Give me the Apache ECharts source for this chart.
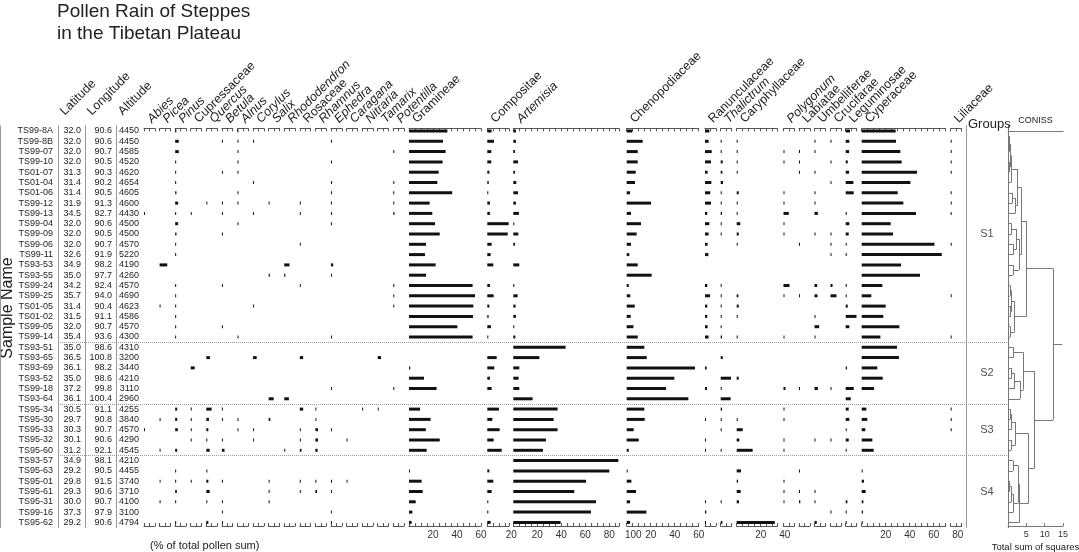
<!DOCTYPE html>
<html>
<head>
<meta charset="utf-8">
<title>Pollen Rain of Steppes</title>
<script src="https://cdn.jsdelivr.net/npm/echarts@6.0.0/dist/echarts.min.js"></script>
<style>
html, body { margin: 0; padding: 0; background: #fff; }
#main { width: 1079px; height: 552px; }
</style>
</head>
<body>
<div id="main"></div>
<script>
// samples, top to bottom
var samples = ['TS99-8A','TS99-8B','TS99-07','TS99-10','TS01-07','TS01-04','TS01-06','TS99-12','TS99-13','TS99-04',
    'TS99-09','TS99-06','TS99-11','TS93-53','TS93-55','TS99-24','TS99-25','TS01-05','TS01-02','TS99-05',
    'TS99-14','TS93-51','TS93-65','TS93-69','TS93-52','TS99-18','TS93-64','TS95-34','TS95-30','TS95-33',
    'TS95-32','TS95-60','TS93-57','TS95-63','TS95-01','TS95-61','TS95-31','TS99-16','TS95-62'];
var latitude = ['32.0','32.0','32.0','32.0','31.3','31.4','31.4','31.9','34.5','32.0',
    '32.0','32.0','32.6','34.9','35.0','34.2','35.7','31.4','31.5','32.0',
    '35.4','35.0','36.5','36.1','35.0','37.2','36.1','30.5','29.7','30.3',
    '30.1','31.2','34.9','29.2','29.8','29.3','30.0','37.3','29.2'];
var longitude = ['90.6','90.6','90.7','90.5','90.3','90.2','90.5','91.3','92.7','90.6',
    '90.5','90.7','91.9','98.2','97.7','92.4','94.0','90.4','91.1','90.7',
    '93.6','98.6','100.8','98.2','98.6','99.8','100.4','91.1','90.8','90.7',
    '90.6','92.1','98.1','90.5','91.5','90.6','90.7','97.9','90.6'];
var altitude = ['4450','4450','4585','4520','4620','4654','4605','4600','4430','4500',
    '4500','4570','5220','4190','4260','4570','4690','4623','4586','4570',
    '4300','4310','3200','3440','4210','3110','2960','4255','3840','4570',
    '4290','4545','4210','4455','3740','3710','4100','3100','4794'];

// pollen percentages (% of total pollen sum)
var abies = [0,0,0,0,0,0,0,0,0.6,0, 0,0,0,0,0,0,0,0,0,0, 0,0,0,0,0,0,0,0,0,0.5, 0,0,0,0,0,0,0,0,0];
var picea = [0,0,0,0,0,0,0,0,0,0, 0,0,0,6.4,0,0,0,0.4,0,0, 0,0,0,0,0,0,0,0,0.4,0, 0,0.4,0,0,0.4,0,0.4,0,0];
var pinus = [1,3,3,0.5,0.8,0.8,1.1,2.5,0.8,2.5, 1.1,0.4,0.4,0,0,0.6,0.4,0.5,0.4,0.4, 0.5,0,0,0,0,0,0,1.7,1.7,2.2, 0,1.7,0,0.4,0.5,1.4,0.5,0,0.4];
var cupressaceae = [0,0,0,0,0,0,0,0,0.3,0, 0,0,0,0,0,0,0,0,0,0, 0,0,0,3.3,0,0,0,0.6,0.5,0.5, 0.5,0,0,0,0.5,0,0,0,0];
var quercus = [0,0,0,0,0,0,0,0.5,0,0, 0,0,0,0,0,0,0,0,0,0, 0,0,3,0,0,0,0,4.4,2.2,1.7, 0.4,2.8,0,0.5,1.7,2.8,0.5,0,1.7];
var betula = [0,0.6,0,0,0.3,0,0,0.5,0.8,0, 0.5,0,0,0,0,0.4,0,0,0,0.5, 0,0,0,0,0,0,0,0.5,0.5,0, 0.4,2.2,0,0,0.5,0,0.5,0.3,0.5];
var alnus = [0.5,0.6,0.5,0.6,0.6,0,0.5,0.8,0,0.5, 0,0,0,0,0,0,0,0,0,0, 0.5,0,0,0,0,0,0,0,0.4,0.4, 0,0,0,0,0,0,0,0,0];
var corylus = [0,0.3,0,0,0,0.3,0,0,0.3,0, 0,0,0,0,0,0,0,0.3,0,0, 0,0,3,0,0,0,0,0,0,0.3, 0.3,0,0,0,0,0,0,0,0];
var salix = [0,0,0,0,0,0,0,0.4,0,0, 0,0,0,0,1,0,0,0,0,0, 0,0,0,0,0,0,4.2,0,1.4,0, 0,0,0,0,0.5,0.8,0.4,0,0];
var rhododendron = [0,0,0,0,0,0,0,0,0,0, 0,0,0,4.4,1,0,0,0,0,0, 0,0,0,0,0,0,3.9,0,0,0, 0,0.3,0,0,0,0,0,0,0];
var rosaceae = [0,0,0,0,0,0,0,0.5,0.6,0, 0,0.4,0,0,0,0.8,0,0,0,0, 0,0,2.8,0,0,0,0,2.8,0,0.5, 0.5,1.4,0,0,0.5,0.4,0,0,0];
var rhamnus = [0,0,0,0,0,0,0,0,0,0, 0,0,0,0,0,0,0,0,0,0, 0,0,0,0,0,0,0,0.5,0.4,2.2, 2.2,1.9,0,0,0.5,1.4,0,0,0];
var ephedra = [0,0.6,0,0.6,0,0.5,0.5,0.4,0.5,0.5, 0,0,0,1.9,0.8,0,0,0,0,0, 0.5,0,0,0,0,0.5,0,0,0,0.5, 0,0,0,0,0.4,0.8,0,0.8,0.4];
var caragana = [0,0,0,0,0,0,0,0,0,0, 0,0,0,0,0,0,0,0,0,0, 0,0,0,0,0,0,0,0,0,0, 0.6,0,0,0,0.5,0,0,0,0];
var nitraria = [0,0,0,0,0,0,0,0,0,0, 0,0,0,0,0,0,0,0,0,0, 0,0,0,0,0,0,0,0.3,0,0, 0,0,0,0,0,0,0,0,0];
var tamarix = [0,0,0,0,0,0,0,0,0,0, 0,0,0,0,0,0,0,0,0,0, 0,0,2.8,0,0,0,0,0.4,0,0, 0,0,0,0,0,0,0,0,0];
var potentilla = [0,0,0.3,0,0,0.5,0.4,0.5,1,0, 0,0,0,0,0,0.3,0.5,0.4,0,0, 0,0,0,0,0,0.3,0,0,0,0, 0,0,0,0,0,0,0,0,0];
var gramineae = [32,28.3,30.5,28,24.7,23.6,36,17.2,19.4,21.7, 25.6,14.2,13.3,22.2,14.2,53,55,53.6,53.3,40.3, 53,0,0,1,12.5,23,0,9.2,18,14, 25.6,14.7,0,0.5,10.5,11.4,5.6,2.8,2.2];
var compositae = [3.6,5.6,3.3,3.3,1.7,1.2,0.8,2.2,2.2,17.8, 17,3.6,2.8,5,0,2.2,5.3,1.7,1.1,3, 0.8,0,7.8,5.8,2.2,3.6,0,9.7,4.2,10.3, 5.3,12,0,1.7,5,3.6,0.8,0.3,2.8];
var artemisia = [2.2,2.2,1.4,3.9,1.4,2.5,3.9,2.2,4.7,0.6, 4.2,1.4,0,5,0,0.6,3.6,1.9,2.2,0.6, 1.7,43.6,21.7,5,4.4,5,16.1,36.9,33.6,36.9, 27.2,24.7,87.5,80,60.6,50.8,68.9,64.7,39.4];
var chenopodiaceae = [4.7,13.3,9.2,9.2,7.5,6.9,2.8,20.3,3.6,11.9, 8.3,3.6,2.2,9.2,20.8,1.7,3,6.7,3.3,5.6, 9.2,14.7,16.7,56.9,39.7,32.8,51.4,14.7,15,5.8, 10,1.7,0,0.8,3.9,7.8,2.8,16.4,2.8];
var ranunculaceae = [3.6,3,5.6,5,2.2,5.3,4.4,5,1.9,3.6, 3,2.2,2.8,0,0,1.9,4.2,1.9,1.9,2.2, 3,0,0,1.4,0,1.7,0,0,0.8,0, 0.4,0.6,0,0,0,0,0.4,1.1,0.5];
var thalictrum = [0,0.6,0.4,1.7,1.4,1.9,0.3,0.4,1.1,0.4, 0.4,0,0,0,0,0.5,0.4,0.4,0.4,0.6, 1.1,0,1.7,0,8.6,0.4,8.3,1.1,0.6,0.4, 0,0.6,0,0,0,0,0.4,0,1.4];
var caryphyllaceae = [0,0.6,0.4,0.6,0.5,0,1.7,0.4,0.5,3, 1.7,0.5,0,0,0,0,1.4,1.7,0.4,0, 0.4,0,0,0,1.7,0,0,0,0.5,5, 2.2,13.3,0,3.6,1.1,3.3,1.9,0,31.7];
var polygonum = [0,0,0.5,0.3,0,0,0.3,0.3,4.4,0.3, 0.3,0,0,0,0,5,0.5,0,0,0, 0.6,0,0,0,0,1.7,0,0.3,0.4,0, 0.3,0.3,0,0,0.3,0.4,0.3,0,0];
var labiatae = [0,0,0.5,0.6,0.6,0,0,0,0,0, 0,0.5,0,0,0,0,0.4,0,0,0, 0,0,0,0,0,0.4,0,0,0,0, 0,0,0,0.6,0,0.5,1.1,0,0];
var umbelliferae = [0,0.5,0.4,0,0.8,0,0.3,0.4,2.8,0, 0.4,0,0,0,0,2.2,2.5,0,0.4,3.9, 0.4,0,0,0,0,2.8,0,0,0,0, 0.5,0,0,0,0,0.5,0.4,0,1.9];
var crucifarae = [0,0.5,0,0.5,0,0.5,0,0,0,0, 0.4,0.4,0.4,0,0,1.7,5,0,0,0, 0,0,0,0,0,0.5,0,0,0,0, 0.5,0,0,0,0,0,0,0.4,0];
var leguminosae = [3.6,3,2.8,1.7,2.8,6.4,6.7,0,0.4,3, 2.5,0.8,0.8,0,0,0.8,0.8,1.7,9.2,3, 0,0,0,1.1,0,6.7,4.2,2.5,3,0.8, 2.5,0.6,0,0,0,0,1.4,0.5,0.6];
var cyperaceae = [28.3,28.6,32.2,33.3,46.1,40.6,30,34.7,45.3,24.2, 26.1,60.6,66.7,32.8,48.6,17.2,8,20,18,31.4, 15.6,29.4,31,13,17.5,10.3,0,3.9,4.7,3, 8.9,10,0,0.3,1.9,3.3,1.4,1.1,0.8];
var liliaceae = [0,0.5,0.3,0.3,0.3,0,0.6,0.5,0.8,0, 0,0.3,0,0,0,0,0.3,0,0,0, 0.3,0,0,0,0,0,0,0.4,0.4,0.4, 0,0,0,0,0,0,0,0,0];

// zones
var groupNames = ['S1', 'S2', 'S3', 'S4'];
var groupSizes = [21, 6, 5, 7];

// CONISS merges: [node a, node b, total sum of squares]; leaves 0..38, new nodes from 39 on
var conissMerges = [
    [0,1,0.2],[39,2,0.3],[3,4,0.3],[40,41,0.5],[42,5,0.8],[6,7,1.2],[44,8,2.0],[43,45,2.6],
    [9,10,1.0],[11,12,1.5],[47,48,2.3],[13,14,1.3],[49,50,3.0],[46,51,3.6],
    [15,16,0.5],[17,18,0.7],[53,54,1.0],[19,20,0.6],[55,56,1.8],[52,57,5.1],
    [21,22,1.5],[23,24,1.0],[60,25,1.8],[61,26,3.3],[59,62,4.2],
    [27,28,0.6],[64,29,0.9],[30,31,0.8],[65,66,2.0],
    [32,33,1.3],[34,35,0.4],[69,36,0.9],[70,37,1.5],[68,71,2.8],[72,38,3.2],
    [67,73,5.6],[63,74,7.1],[58,75,12.3]
];
var conissRoot = 14.8;

// column layout (x of axis origin, axis end, label end)
var taxa = [
    {name: 'Abies', data: abies, it: true},
    {name: 'Picea', data: picea, it: true},
    {name: 'Pinus', data: pinus, it: true},
    {name: 'Cupressaceae', data: cupressaceae, it: false},
    {name: 'Quercus', data: quercus, it: true},
    {name: 'Betula', data: betula, it: true},
    {name: 'Alnus', data: alnus, it: true},
    {name: 'Corylus', data: corylus, it: true},
    {name: 'Salix', data: salix, it: true},
    {name: 'Rhododendron', data: rhododendron, it: true},
    {name: 'Rosaceae', data: rosaceae, it: false},
    {name: 'Rhamnus', data: rhamnus, it: true},
    {name: 'Ephedra', data: ephedra, it: true},
    {name: 'Caragana', data: caragana, it: true},
    {name: 'Nitraria', data: nitraria, it: true},
    {name: 'Tamarix', data: tamarix, it: true},
    {name: 'Potentilla', data: potentilla, it: true},
    {name: 'Gramineae', data: gramineae, it: false, left: 409, max: 60, labelMax: 60},
    {name: 'Compositae', data: compositae, it: false, left: 487.3, max: 18, labelMax: 20},
    {name: 'Artemisia', data: artemisia, it: true, left: 513.3, max: 88, labelMax: 100},
    {name: 'Chenopodiaceae', data: chenopodiaceae, it: false, left: 626.7, max: 60, labelMax: 60},
    {name: 'Ranunculaceae', data: ranunculaceae, it: false, left: 705},
    {name: 'Thalictrum', data: thalictrum, it: true, left: 720.7},
    {name: 'Caryphyllaceae', data: caryphyllaceae, it: false, left: 736.7, max: 34, labelMax: 40},
    {name: 'Polygonum', data: polygonum, it: true, left: 783.5},
    {name: 'Labiatae', data: labiatae, it: false, left: 799},
    {name: 'Umbelliferae', data: umbelliferae, it: false, left: 814.5},
    {name: 'Crucifarae', data: crucifarae, it: false, left: 830.5},
    {name: 'Leguminosae', data: leguminosae, it: false, left: 845.7},
    {name: 'Cyperaceae', data: cyperaceae, it: false, left: 861.7, max: 70, labelMax: 80},
    {name: 'Liliaceae', data: liliaceae, it: false, left: 950.7}
];

var FONT = '"Liberation Sans", Arial, sans-serif';
var TOP = 125.85, HEIGHT = 401.7, SCALE = 1.2;
var nRows = samples.length;

var grids = [], xAxes = [], yAxes = [], series = [];

function newGrid(left, width) {
    grids.push({left: left, top: TOP, width: width, height: HEIGHT, containLabel: false, outerBoundsMode: 'none'});
    return grids.length - 1;
}
function rowAxis(gi) {
    yAxes.push({gridIndex: gi, type: 'value', inverse: true, min: -0.5, max: nRows - 0.5, show: false});
    return yAxes.length - 1;
}

// text columns
var textCols = [
    {vals: samples, left: 0, width: 58, margin: 5, head: ''},
    {vals: latitude, left: 58, width: 27, margin: 4, head: 'Latitude'},
    {vals: longitude, left: 85, width: 31, margin: 4, head: 'Longitude'},
    {vals: altitude, left: 116, width: 26, margin: 3, head: 'Altitude'}
];
textCols.forEach(function (c) {
    var gi = newGrid(c.left, c.width);
    xAxes.push({
        gridIndex: gi, type: 'value', position: 'top', min: 0, max: 1, offset: 8,
        axisLine: {show: false}, axisTick: {show: false}, axisLabel: {show: false}, splitLine: {show: false},
        name: c.head, nameLocation: 'start', nameGap: -9, nameRotate: 45, nameMoveOverlap: false,
        nameTextStyle: {fontSize: 12.5, fontFamily: FONT, color: '#222', align: 'left', verticalAlign: 'bottom'}
    });
    yAxes.push({
        gridIndex: gi, type: 'category', data: samples, inverse: true, position: 'right',
        axisLine: {show: true, lineStyle: {color: '#999', width: 1}},
        axisTick: {show: false}, splitLine: {show: false},
        axisLabel: {
            inside: true, margin: c.margin, interval: 0, fontSize: 9, fontFamily: FONT, color: '#222',
            formatter: function (v, i) { return c.vals[i]; }
        }
    });
});

// pollen columns
taxa.forEach(function (t, k) {
    var left = t.left !== undefined ? t.left : 144 + 15.58 * k;
    var max = t.max || 9;
    var gi = newGrid(left, max * SCALE);
    var base = {
        gridIndex: gi, type: 'value', min: 0, max: max, interval: max > 10 ? 5 : max / 2,
        axisLine: {show: true, lineStyle: {color: '#555', width: 1}},
        axisTick: {show: true, inside: true, length: 3, lineStyle: {color: '#555'}},
        axisLabel: {show: false}, splitLine: {show: false}
    };
    xAxes.push(Object.assign({}, base, {
        position: 'top', offset: -2.5,
        name: t.name, nameLocation: 'start', nameGap: -13, nameRotate: 45, nameMoveOverlap: false,
        nameTextStyle: {fontSize: 12.5, fontFamily: FONT, color: '#222', fontStyle: t.it ? 'italic' : 'normal',
            align: 'left', verticalAlign: 'bottom', padding: [0, 0, 4, 0]}
    }));
    var xb = xAxes.length;
    xAxes.push(Object.assign({}, base, {position: 'bottom', offset: -1.5}));
    yAxes.push({gridIndex: gi, type: 'category', data: samples, inverse: true, show: false});
    series.push({
        type: 'bar', xAxisIndex: xb, yAxisIndex: yAxes.length - 1, barWidth: 3, barMinHeight: 1, z: 3,
        silent: true, itemStyle: {color: '#111'},
        data: t.data.map(function (v) { return v > 0 ? v : '-'; })
    });
    if (t.labelMax) {
        var lg = newGrid(left, t.labelMax * SCALE);
        xAxes.push({
            gridIndex: lg, type: 'value', position: 'bottom', offset: -1.5, min: 0, max: t.labelMax, interval: 20,
            axisLine: {show: false}, axisTick: {show: false}, splitLine: {show: false},
            axisLabel: {show: true, margin: 4, fontSize: 10, fontFamily: FONT, color: '#333',
                formatter: function (v) { return v === 0 ? '' : v; }}
        });
        rowAxis(lg);
    }
});

// zone boundaries (dotted lines across the diagram)
var boundaries = [], centers = [], acc = 0;
groupSizes.forEach(function (n) {
    centers.push(acc + (n - 1) / 2);
    acc += n;
    if (acc < nRows) boundaries.push(acc - 0.5);
});
var og = newGrid(58, 950);
xAxes.push({gridIndex: og, type: 'value', min: 0, max: 1, show: false});
series.push({
    type: 'scatter', xAxisIndex: xAxes.length - 1, yAxisIndex: rowAxis(og), symbolSize: 0, z: 1,
    data: [[0.5, -3]],
    markLine: {
        silent: true, symbol: 'none', label: {show: false}, animation: false,
        lineStyle: {type: 'dotted', color: '#999', width: 1},
        data: boundaries.map(function (b) { return {yAxis: b}; })
    }
});

// groups column
var gg = newGrid(966, 42);
xAxes.push({
    gridIndex: gg, type: 'value', position: 'top', min: 0, max: 1,
    axisLine: {show: false}, axisTick: {show: false}, axisLabel: {show: false}, splitLine: {show: false},
    name: 'Groups', nameLocation: 'start', nameGap: -2, nameMoveOverlap: false,
    nameTextStyle: {fontSize: 13, fontFamily: FONT, color: '#222', align: 'left', verticalAlign: 'bottom'}
});
yAxes.push({
    gridIndex: gg, type: 'value', inverse: true, min: -0.5, max: nRows - 0.5, position: 'left',
    axisLine: {show: true, lineStyle: {color: '#999', width: 1}},
    axisTick: {show: false}, axisLabel: {show: false}, splitLine: {show: false}
});
series.push({
    type: 'scatter', xAxisIndex: xAxes.length - 1, yAxisIndex: yAxes.length - 1, symbolSize: 0,
    label: {show: true, position: 'inside', formatter: '{b}', fontSize: 11, fontFamily: FONT, color: '#222'},
    data: groupNames.map(function (g, i) { return {name: g, value: [0.5, centers[i]]}; })
});

// CONISS dendrogram
var nodeY = [], nodeH = [], segs = [];
for (var i = 0; i < nRows; i++) { nodeY.push(i); nodeH.push(0); }
conissMerges.forEach(function (m) {
    var a = m[0], b = m[1], h = m[2];
    segs.push({coords: [[nodeH[a], nodeY[a]], [h, nodeY[a]]]});
    segs.push({coords: [[nodeH[b], nodeY[b]], [h, nodeY[b]]]});
    segs.push({coords: [[h, nodeY[a]], [h, nodeY[b]]]});
    nodeY.push((nodeY[a] + nodeY[b]) / 2);
    nodeH.push(h);
});
var rootIdx = nodeY.length - 1;
segs.push({coords: [[nodeH[rootIdx], nodeY[rootIdx]], [conissRoot, nodeY[rootIdx]]]});

var cg = newGrid(1008, 55);
xAxes.push({
    gridIndex: cg, type: 'value', position: 'top', min: 0, max: 15, offset: -3,
    axisLine: {show: true, lineStyle: {color: '#777', width: 1}},
    axisTick: {show: false}, axisLabel: {show: false}, splitLine: {show: false},
    name: 'CONISS', nameLocation: 'middle', nameGap: 4, nameMoveOverlap: false,
    nameTextStyle: {fontSize: 9, fontFamily: FONT, color: '#222'}
});
var cxb = xAxes.length;
xAxes.push({
    gridIndex: cg, type: 'value', position: 'bottom', min: 0, max: 15, interval: 5, offset: -1.5,
    axisLine: {show: true, lineStyle: {color: '#777', width: 1}},
    axisTick: {show: true, inside: true, length: 3, lineStyle: {color: '#777'}},
    axisLabel: {margin: 4, fontSize: 9, fontFamily: FONT, color: '#333',
        formatter: function (v) { return v === 0 ? '' : v; }},
    splitLine: {show: false},
    name: 'Total sum of squares', nameLocation: 'middle', nameGap: 16, nameMoveOverlap: false,
    nameTextStyle: {fontSize: 9.5, fontFamily: FONT, color: '#222'}
});
yAxes.push({
    gridIndex: cg, type: 'value', inverse: true, min: -0.5, max: nRows - 0.5,
    axisLine: {show: true, lineStyle: {color: '#777', width: 1}},
    axisTick: {show: false}, axisLabel: {show: false}, splitLine: {show: false}
});
series.push({
    type: 'lines', coordinateSystem: 'cartesian2d', xAxisIndex: cxb, yAxisIndex: yAxes.length - 1,
    silent: true, lineStyle: {color: '#777', width: 1, opacity: 1}, data: segs
});

var myChart = echarts.init(document.getElementById('main'));
var option = {
    animation: false,
    backgroundColor: '#fff',
    textStyle: {fontFamily: FONT},
    title: [
        {text: 'Pollen Rain of Steppes\nin the Tibetan Plateau', left: 57, top: 1, padding: 0,
            textStyle: {fontSize: 19, lineHeight: 22, fontWeight: 'normal', color: '#222', fontFamily: FONT}},
        {text: '(% of total pollen sum)', left: 150, top: 540, padding: 0,
            textStyle: {fontSize: 11, fontWeight: 'normal', color: '#222', fontFamily: FONT}}
    ],
    graphic: [{
        type: 'text', x: 8, y: 308, rotation: Math.PI / 2, silent: true,
        style: {text: 'Sample Name', font: '16px ' + FONT, fill: '#222', textAlign: 'center', textVerticalAlign: 'middle'}
    }],
    grid: grids,
    xAxis: xAxes,
    yAxis: yAxes,
    series: series
};
myChart.setOption(option);
</script>
</body>
</html>
